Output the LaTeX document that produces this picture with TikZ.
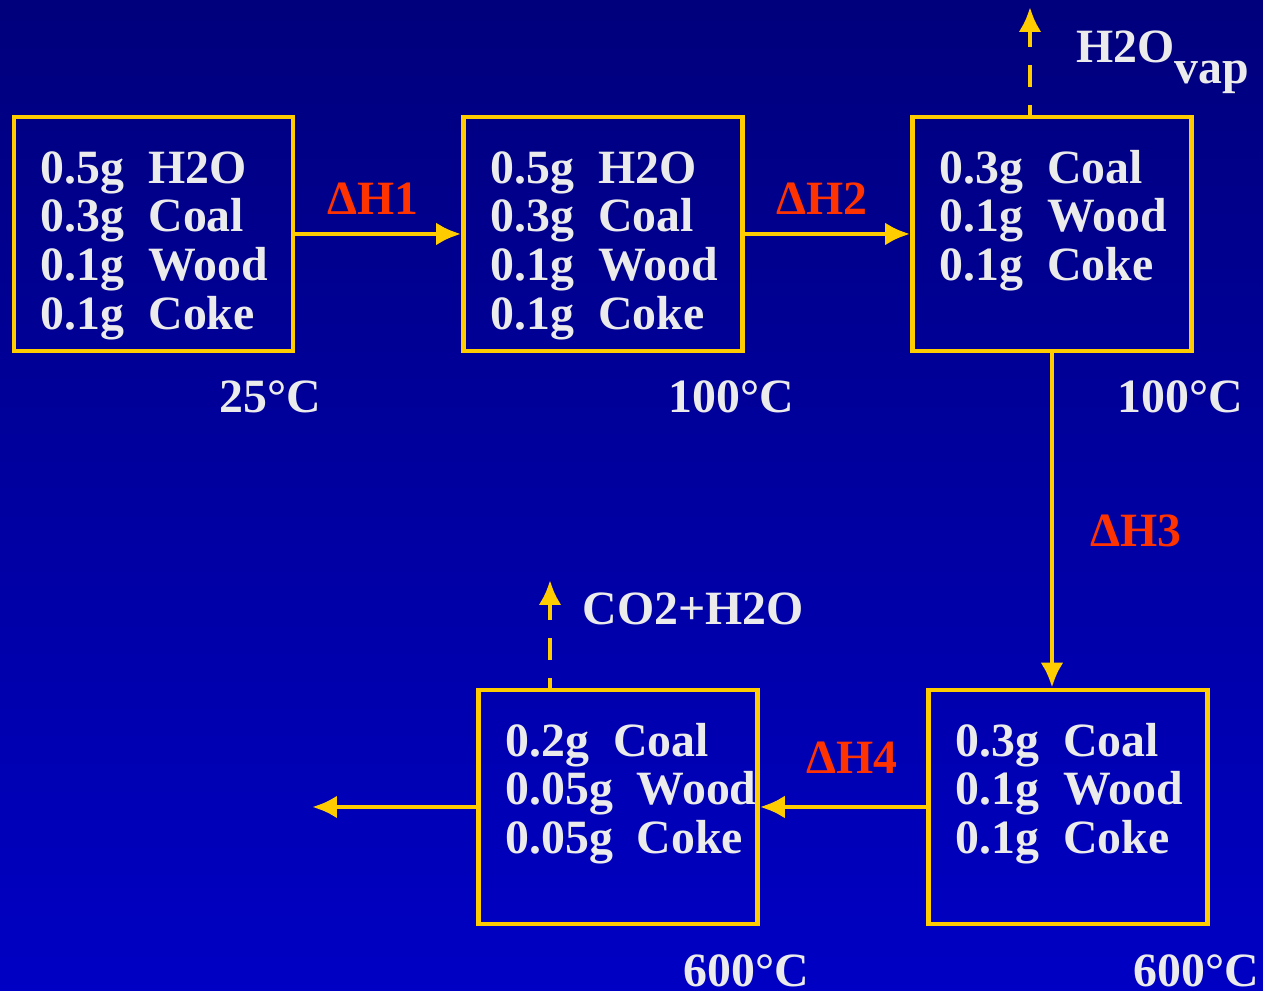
\documentclass[tikz,border=0pt]{standalone}
\usepackage{fontspec}
\setmainfont{Liberation Serif}
\usepackage{tikz}
\usetikzlibrary{arrows.meta,positioning,calc}
\definecolor{slideTop}{HTML}{00007C}
\definecolor{slideBot}{HTML}{0000C4}
\definecolor{flowGold}{HTML}{FFCC00}
\definecolor{flowRed}{HTML}{FF3300}
\definecolor{flowText}{HTML}{EBEBEB}
\newcommand{\amt}[2]{\mbox{#1\hspace{0.5em}#2}}
\tikzset{
  flow/.style={-{Latex[length=2.5mm,width=2.3mm]}, line width=1.4pt, draw=flowGold},
  vent/.style={flow, dash pattern=on 2.2mm off 1.8mm, dash phase=1.2mm},
  stage/.style={draw=flowGold, line width=1.3pt, minimum width=2.79cm, minimum height=2.34cm, text width=2.25cm, inner xsep=0.27cm, text height=9.5pt, text depth=38.5pt, align=left, text=flowText, font=\fontsize{13.6}{13.9}\selectfont\bfseries},
  temp/.style={text=flowText, inner sep=0pt, anchor=base east, font=\fontsize{13.6}{13.9}\selectfont\bfseries},
  heat/.style={text=flowRed, inner sep=0pt, anchor=base west, font=\fontsize{13.6}{13.9}\selectfont\bfseries},
  gas/.style={text=flowText, inner sep=0pt, anchor=base west, font=\fontsize{13.6}{13.9}\selectfont\bfseries}
}
\begin{document}
\begin{tikzpicture}[x=1cm,y=1cm]
  \useasboundingbox (0,0) rectangle (12.63,9.91);
  \shade[top color=slideTop, bottom color=slideBot] (0,0) rectangle (12.63,9.91);
  \node[stage] (raw) at (1.535,7.57) {\amt{0.5g}{H2O}\\\amt{0.3g}{Coal}\\\amt{0.1g}{Wood}\\\amt{0.1g}{Coke}};
  \node[stage] (heated) at (6.03,7.57) {\amt{0.5g}{H2O}\\\amt{0.3g}{Coal}\\\amt{0.1g}{Wood}\\\amt{0.1g}{Coke}};
  \node[stage] (dried) at (10.52,7.57) {\amt{0.3g}{Coal}\\\amt{0.1g}{Wood}\\\amt{0.1g}{Coke}};
  \node[stage] (hot) at (10.68,1.84) {\amt{0.3g}{Coal}\\\amt{0.1g}{Wood}\\\amt{0.1g}{Coke}};
  \node[stage] (burnt) at (6.18,1.84) {\amt{0.2g}{Coal}\\\amt{0.05g}{Wood}\\\amt{0.05g}{Coke}};
  \node[temp] (tRaw) at (3.22,5.78) {25°C};
  \node[temp] (tHeated) at (7.95,5.78) {100°C};
  \node[temp] (tDried) at (12.44,5.78) {100°C};
  \node[temp] (tBurnt) at (8.10,0.04) {600°C};
  \node[temp] (tHot) at (12.60,0.04) {600°C};
  \node[heat] (dh1) at (3.27,7.76) {ΔH1};
  \node[heat] (dh2) at (7.76,7.76) {ΔH2};
  \node[heat] (dh3) at (10.90,4.44) {ΔH3};
  \node[heat] (dh4) at (8.06,2.17) {ΔH4};
  \node[gas] (vapour) at (10.76,9.28) {H2O\raisebox{-5.7pt}{vap}};
  \node[gas] (fumes) at (5.82,3.66) {CO2+H2O};
  \coordinate (vapTop) at (10.30,9.84);
  \coordinate (fumeTop) at (5.50,4.11);
  \coordinate (exit) at (3.12,1.84);
  \draw[flow] (raw.east) -- (heated.west);
  \draw[flow] (heated.east) -- (dried.west);
  \draw[flow] (dried.south) -- (dried.south |- hot.north);
  \draw[flow] (hot.west) -- (burnt.east);
  \draw[flow] (burnt.west) -- (exit);
  \draw[vent] (dried.north -| vapTop) -- (vapTop);
  \draw[vent] (burnt.north -| fumeTop) -- (fumeTop);
\end{tikzpicture}
\end{document}
